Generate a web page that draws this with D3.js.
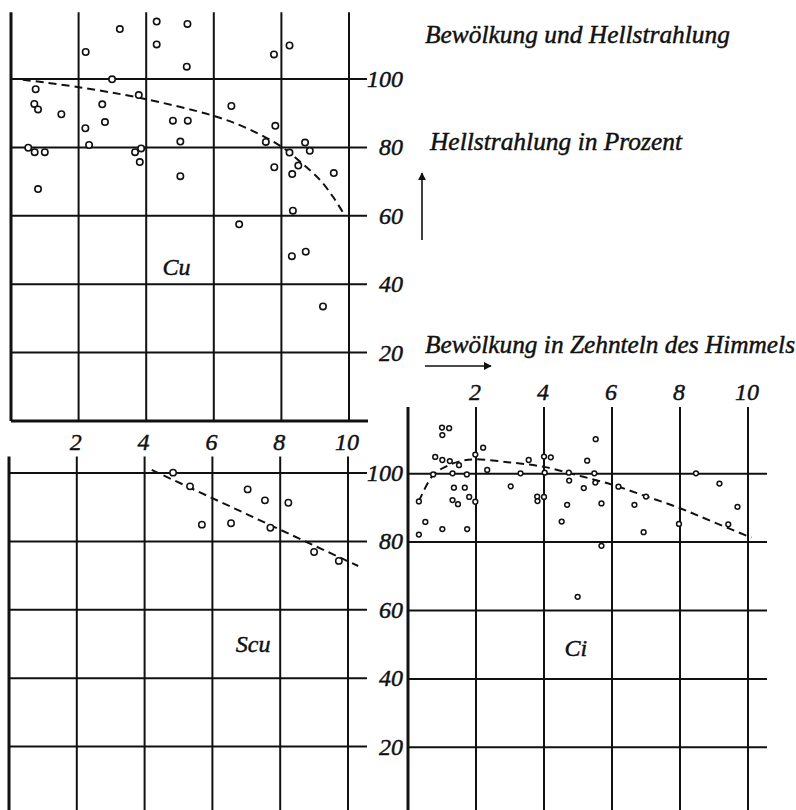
<!DOCTYPE html>
<html>
<head>
<meta charset="utf-8">
<script src="https://cdn.jsdelivr.net/npm/d3@7"></script>
<style>
  body { margin: 0; background: #fff; }
  text { font-family: "Liberation Serif", "DejaVu Serif", serif; font-style: italic; fill: #111; stroke: #111; stroke-width: 0.45px; }
</style>
</head>
<body>
<div id="chart"></div>
<script>
// Bewölkung (Zehntel) vs. Hellstrahlung (%)
const gridX = [2, 4, 6, 8, 10];
const gridY = [20, 40, 60, 80, 100];

const cuPoints = [
  [4.31, 116.8], [5.22, 116.1], [3.22, 114.6], [4.31, 110.1], [2.21, 107.9], [8.24, 109.8],
  [7.78, 107.2], [5.20, 103.6], [2.99, 99.9], [0.73, 97.0], [0.69, 92.7], [0.80, 91.1],
  [1.49, 89.7], [2.70, 92.6], [3.78, 95.3], [6.52, 92.1], [2.20, 85.6], [2.78, 87.4],
  [4.79, 87.8], [5.23, 87.8], [7.82, 86.3], [5.01, 81.7], [2.31, 80.7], [0.51, 79.9],
  [0.70, 78.6], [1.00, 78.6], [3.67, 78.6], [3.85, 79.7], [3.81, 75.7], [7.54, 81.6],
  [8.24, 78.5], [8.70, 81.4], [8.84, 79.0], [8.50, 74.7], [8.32, 72.2], [7.79, 74.2],
  [9.55, 72.5], [5.01, 71.6], [0.80, 67.8], [8.34, 61.5], [6.75, 57.5], [8.31, 48.2],
  [8.72, 49.5], [9.23, 33.5]
];
const cuCurve = [
  [0.35, 99.8], [2, 97.6], [3.8, 94.5], [6, 89.2], [7, 85.5], [8, 80.2],
  [8.6, 75.4], [9.14, 70.5], [9.53, 65.5], [9.85, 60.5]
];

const scuPoints = [
  [4.84, 100.1], [5.34, 96.1], [7.04, 95.2], [7.55, 92.0], [8.24, 91.3],
  [5.69, 84.9], [6.55, 85.3], [7.71, 84.0], [9.0, 76.9], [9.73, 74.3]
];
const scuLine = [[4.21, 100.9], [10.3, 72.8]];

const ciPoints = [
  [1.0, 113.5], [1.21, 113.3], [1.01, 111.3], [5.52, 110.1], [2.21, 107.6], [1.98, 105.6],
  [0.80, 104.9], [1.01, 104.0], [1.23, 103.7], [1.50, 102.5], [2.33, 101.1], [3.55, 104.0],
  [4.0, 105.0], [4.20, 104.8], [5.27, 103.8], [0.74, 99.8], [1.31, 100.1], [1.73, 99.8],
  [3.31, 100.1], [4.02, 100.3], [4.73, 100.3], [5.48, 100.1], [8.47, 100.1], [4.74, 98.0],
  [5.51, 97.4], [3.02, 96.3], [1.35, 95.9], [1.67, 95.9], [5.17, 95.8], [6.19, 96.2],
  [9.16, 97.1], [3.80, 93.3], [4.0, 93.2], [3.81, 92.0], [7.0, 93.3], [1.80, 93.2],
  [1.31, 92.3], [1.47, 91.1], [1.98, 91.8], [0.32, 91.9], [4.68, 90.9], [5.69, 91.3],
  [6.66, 90.9], [9.69, 90.3], [0.51, 85.9], [4.52, 86.0], [7.97, 85.3], [9.42, 85.2],
  [1.01, 83.8], [1.74, 83.8], [6.93, 82.9], [0.32, 82.2], [5.69, 78.9], [4.99, 64.0]
];
const ciCurve = [
  [0.32, 91.9], [0.74, 99.6], [1.2, 102.5], [1.6, 103.8], [2.0, 104.2], [3, 103.3],
  [4, 102], [5, 99.5], [6, 96.8], [7, 93.4], [8, 89.9], [9, 85.8], [10.1, 81.3]
];

const width = 796, height = 810;

const svg = d3.select("#chart").append("svg")
  .attr("width", width)
  .attr("height", height)
  .style("display", "block");

const drawPanel = (p) => {
  const x = d3.scaleLinear().domain([0, 10]).range([p.left, p.right]);
  const y = d3.scaleLinear().domain([0, 100]).range([p.zeroY, p.zeroY - 342]);
  const g = svg.append("g");

  // horizontal grid
  g.selectAll("line.h")
    .data(gridY)
    .join("line")
    .attr("x1", p.left).attr("x2", p.lineEnd)
    .attr("y1", d => y(d)).attr("y2", d => y(d))
    .attr("stroke", "#111").attr("stroke-width", 2);

  // vertical grid
  g.selectAll("line.v")
    .data(gridX)
    .join("line")
    .attr("x1", d => x(d)).attr("x2", d => x(d))
    .attr("y1", y(p.topValue)).attr("y2", Math.min(y(0), height))
    .attr("stroke", "#111").attr("stroke-width", 2);

  // left edge
  g.append("line")
    .attr("x1", p.left).attr("x2", p.left)
    .attr("y1", y(p.topValue)).attr("y2", Math.min(y(0), height))
    .attr("stroke", "#111").attr("stroke-width", 3);

  if (p.baseLine) {
    g.append("line")
      .attr("x1", p.left).attr("x2", p.lineEnd + 1)
      .attr("y1", y(0)).attr("y2", y(0))
      .attr("stroke", "#111").attr("stroke-width", 3);
  }

  if (p.yLabels) {
    g.selectAll("text.yl")
      .data(gridY)
      .join("text")
      .attr("x", 403)
      .attr("y", d => y(d) + 8)
      .attr("text-anchor", "end")
      .style("font-size", "24px")
      .text(d => d);
  }

  if (p.xLabels) {
    g.selectAll("text.xl")
      .data(gridX)
      .join("text")
      .attr("x", d => x(d) - 1)
      .attr("y", p.xLabelY)
      .attr("text-anchor", "middle")
      .style("font-size", "24px")
      .text(d => d);
  }

  const line = d3.line()
    .x(d => x(d[0]))
    .y(d => y(d[1]))
    .curve(d3.curveCatmullRom);

  g.append("path")
    .attr("d", line(p.curve))
    .attr("fill", "none")
    .attr("stroke", "#111")
    .attr("stroke-width", 2)
    .attr("stroke-dasharray", "8,5");

  g.selectAll("circle")
    .data(p.points)
    .join("circle")
    .attr("cx", d => x(d[0]))
    .attr("cy", d => y(d[1]))
    .attr("r", p.r)
    .attr("fill", "#fff")
    .attr("stroke", "#111")
    .attr("stroke-width", p.sw);

  g.append("text")
    .attr("x", x(p.label[1]))
    .attr("y", y(p.label[2]))
    .attr("text-anchor", "middle")
    .style("font-size", "24px")
    .text(p.label[0]);
};

drawPanel({
  left: 11, right: 349, lineEnd: 367, zeroY: 421, topValue: 119.5,
  baseLine: true, yLabels: true, xLabels: false,
  points: cuPoints, curve: cuCurve, r: 3.2, sw: 1.6,
  label: ["Cu", 4.9, 42.7]
});

drawPanel({
  left: 9, right: 348, lineEnd: 367, zeroY: 815, topValue: 104.8,
  baseLine: false, yLabels: true, xLabels: true, xLabelY: 450,
  points: scuPoints, curve: scuLine, r: 3.2, sw: 1.5,
  label: ["Scu", 7.2, 47.7]
});

drawPanel({
  left: 408, right: 748, lineEnd: 767, zeroY: 815.7, topValue: 119.5,
  baseLine: false, yLabels: false, xLabels: true, xLabelY: 400,
  points: ciPoints, curve: ciCurve, r: 2.4, sw: 1.5,
  label: ["Ci", 4.94, 46.7]
});

// titles
svg.append("text")
  .attr("x", 425).attr("y", 43)
  .attr("textLength", 305).attr("lengthAdjust", "spacingAndGlyphs")
  .style("font-size", "25px")
  .text("Bewölkung und Hellstrahlung");

svg.append("text")
  .attr("x", 430).attr("y", 150)
  .attr("textLength", 252).attr("lengthAdjust", "spacingAndGlyphs")
  .style("font-size", "25px")
  .text("Hellstrahlung in Prozent");

svg.append("text")
  .attr("x", 425).attr("y", 353)
  .attr("textLength", 370).attr("lengthAdjust", "spacingAndGlyphs")
  .style("font-size", "25px")
  .text("Bewölkung in Zehnteln des Himmels");

// arrows
const defs = svg.append("defs");
defs.append("marker")
  .attr("id", "head")
  .attr("viewBox", "0 0 10 10")
  .attr("refX", 9).attr("refY", 5)
  .attr("markerWidth", 8).attr("markerHeight", 8)
  .attr("markerUnits", "userSpaceOnUse")
  .attr("orient", "auto")
  .append("path")
  .attr("d", "M0,0 L10,5 L0,10 z")
  .attr("fill", "#111");

svg.append("line")
  .attr("x1", 422).attr("y1", 240).attr("x2", 422).attr("y2", 173)
  .attr("stroke", "#111").attr("stroke-width", 1.6)
  .attr("marker-end", "url(#head)");

svg.append("line")
  .attr("x1", 425).attr("y1", 366).attr("x2", 491).attr("y2", 366)
  .attr("stroke", "#111").attr("stroke-width", 1.6)
  .attr("marker-end", "url(#head)");
</script>
</body>
</html>
